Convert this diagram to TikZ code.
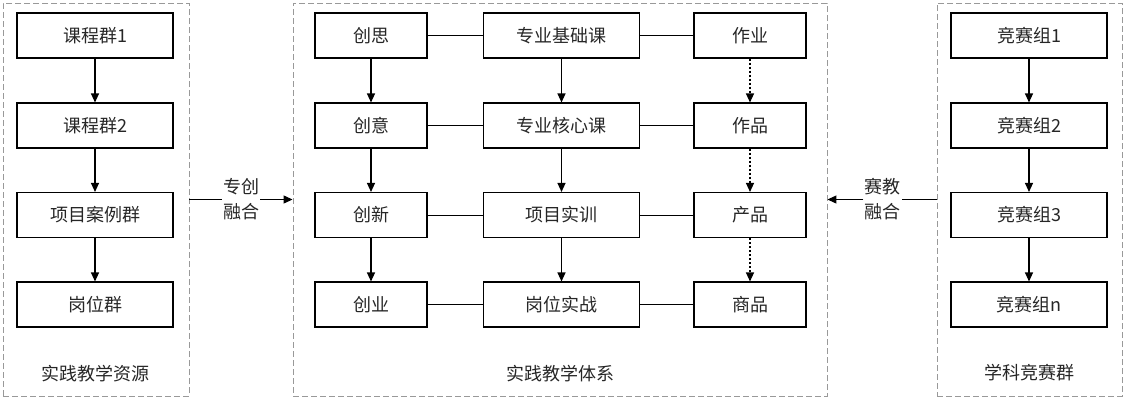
\documentclass[tikz,border=0pt]{standalone}
\usepackage{fontspec}
\setmainfont{Noto Sans CJK SC}
\usetikzlibrary{arrows.meta}
\tikzset{
  box/.style={draw,line width=1.1pt,minimum width=156pt,minimum height=45pt,inner sep=0pt,text=black!85,font=\fontsize{18}{22}\selectfont},
  sbox/.style={box,minimum width=112pt},
  group/.style={draw=black!40,dash pattern=on 6pt off 3pt,line width=0.9pt,minimum height=393pt,inner sep=0pt},
  caption/.style={text=black!85,font=\fontsize{18}{22}\selectfont},
  merge/.style={fill=white,inner sep=1pt,align=center,text=black!85,font=\fontsize{18}{25}\selectfont},
  flow/.style={->,line width=1.2pt},
  dflow/.style={->,line width=1.2pt,dash pattern=on 2pt off 2pt},
  link/.style={line width=1pt},
  >={Triangle[length=9pt,width=8pt]}
}
\begin{document}
\begin{tikzpicture}[x=1pt,y=-1pt]
  \useasboundingbox (0,0) rectangle (1126,399);
  % practice resources
  \node[group,minimum width=186pt] (res) at (96,199.5) {};
  \node[box] (k1) at (95,35.5) {课程群1};
  \node[box] (k2) at (95,125.5) {课程群2};
  \node[box] (xm) at (95,215) {项目案例群};
  \node[box] (gw) at (95,304.5) {岗位群};
  \node[caption] (reslab) at (95,374) {实践教学资源};
  \draw[flow] (k1) -- (k2);
  \draw[flow] (k2) -- (xm);
  \draw[flow] (xm) -- (gw);
  % teaching system
  \node[group,minimum width=534pt] (sys) at (560,199.5) {};
  \node[sbox] (cs) at (371,35.5) {创思};
  \node[sbox] (cy) at (371,125.5) {创意};
  \node[sbox] (cx) at (371,215) {创新};
  \node[sbox] (cye) at (371,304.5) {创业};
  \node[box] (jc) at (561.5,35.5) {专业基础课};
  \node[box] (hx) at (561.5,125.5) {专业核心课};
  \node[box] (sx) at (561.5,215) {项目实训};
  \node[box] (sz) at (561.5,304.5) {岗位实战};
  \node[sbox] (zy) at (750,35.5) {作业};
  \node[sbox] (zp) at (750,125.5) {作品};
  \node[sbox] (cp) at (750,215) {产品};
  \node[sbox] (sp) at (750,304.5) {商品};
  \node[caption] (syslab) at (560,374) {实践教学体系};
  \draw[flow] (cs) -- (cy); \draw[flow] (cy) -- (cx); \draw[flow] (cx) -- (cye);
  \draw[flow] (jc) -- (hx); \draw[flow] (hx) -- (sx); \draw[flow] (sx) -- (sz);
  \draw[dflow] (zy) -- (zp); \draw[dflow] (zp) -- (cp); \draw[dflow] (cp) -- (sp);
  \draw[link] (cs) -- (jc); \draw[link] (jc) -- (zy);
  \draw[link] (cy) -- (hx); \draw[link] (hx) -- (zp);
  \draw[link] (cx) -- (sx); \draw[link] (sx) -- (cp);
  \draw[link] (cye) -- (sz); \draw[link] (sz) -- (sp);
  % competitions
  \node[group,minimum width=185pt] (jsq) at (1029.5,199.5) {};
  \node[box] (js1) at (1029,35.5) {竞赛组1};
  \node[box] (js2) at (1029,125.5) {竞赛组2};
  \node[box] (js3) at (1029,215) {竞赛组3};
  \node[box] (jsn) at (1029,304.5) {竞赛组n};
  \node[caption] (jsqlab) at (1029,373) {学科竞赛群};
  \draw[flow] (js1) -- (js2);
  \draw[flow] (js2) -- (js3);
  \draw[flow] (js3) -- (jsn);
  % merging arrows
  \node[merge] (zc) at (241,199.5) {专创\\融合};
  \draw[link,line width=1.2pt] (res.east) -- (zc.west);
  \draw[flow] (zc.east) -- (sys.west);
  \node[merge] (sj) at (882.5,199.5) {赛教\\融合};
  \draw[link,line width=1.2pt] (jsq.west) -- (sj.east);
  \draw[flow] (sj.west) -- (sys.east);
\end{tikzpicture}
\end{document}
